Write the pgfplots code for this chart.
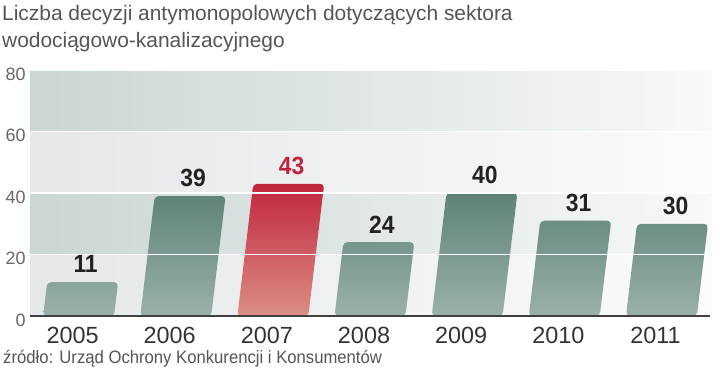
\documentclass[border=0pt]{standalone}
\usepackage{pgfplots}
\pgfplotsset{compat=1.18}
\usepackage{fontspec}
\setmainfont{Liberation Sans}
\newfontfamily\condfont[FakeStretch=0.93]{Liberation Sans}
\newfontfamily\numfont[FakeStretch=0.92]{Liberation Sans}
\definecolor{bandA}{HTML}{C9D6D4}
\definecolor{bandAr}{HTML}{F8F9F9}
\definecolor{bandB}{HTML}{E5E7EA}
\definecolor{bandBr}{HTML}{FBFBFB}
\definecolor{gtop}{HTML}{5D8376}
\definecolor{gbot}{HTML}{9BB0AC}
\definecolor{rtop}{HTML}{C1253E}
\definecolor{rbot}{HTML}{DB8F84}
\definecolor{titlegray}{HTML}{555555}
\definecolor{labdark}{HTML}{222222}
\begin{document}
\begin{tikzpicture}[x=1bp,y=1bp]
\path[use as bounding box] (0,0) rectangle (720,367);
% background bands (plot area 30..710 x 51..297)
\shade[left color=bandB, right color=bandBr] (30,51) rectangle (712,112.5);
\shade[left color=bandA, right color=bandAr] (30,112.5) rectangle (712,174);
\shade[left color=bandB, right color=bandBr] (30,174) rectangle (712,235.5);
\shade[left color=bandA, right color=bandAr] (30,235.5) rectangle (712,297);
% title
\node[anchor=base west, inner sep=0, text=titlegray, font=\fontsize{21}{25}\selectfont] at (2,347) {Liczba decyzji antymonopolowych dotyczących sektora};
\node[anchor=base west, inner sep=0, text=titlegray, font=\fontsize{21}{25}\selectfont] at (2,320) {wodociągowo-kanalizacyjnego};
% source
\node[anchor=base west, inner sep=0, text=titlegray, font=\condfont\fontsize{18}{20}\selectfont] at (3,4) {źródło: Urząd Ochrony Konkurencji i Konsumentów};
\begin{axis}[
  at={(30bp,51bp)}, anchor=south west,
  scale only axis, width=680bp, height=246bp,
  xmin=-0.5, xmax=6.5, ymin=0, ymax=80,
  disabledatascaling,
  axis on top,
  axis lines*=left,
  y axis line style={draw=none},
  x axis line style={draw=black!75, line width=2bp},
  major tick length=0pt,
  ytick={0,20,40,60,80},
  xtick={0,1,2,3,4,5,6},
  xticklabels={2005,2006,2007,2008,2009,2010,2011},
  ymajorgrids,
  grid style={white, line width=1.6bp},
  /pgf/number format/assume math mode=true,
  yticklabel style={font=\fontsize{18}{20}\selectfont, text=black!60, anchor=east, xshift=-1bp, yshift=-4bp},
  xticklabel style={font=\fontsize{23.5}{26}\selectfont, text=black!80, yshift=-8bp, xshift=-6bp},
  ybar, bar width=0.73, bar shift=0pt,
  clip=false,
  nodes near coords,
  every node near coord/.append style={font=\numfont\bfseries\fontsize{25}{28}\selectfont, inner sep=0pt, anchor=south, yshift=9bp, xshift=3bp},
]
\addplot[draw=none, top color=gtop, bottom color=gbot, rounded corners=4bp, xslant=0.12,
  every node near coord/.append style={text=labdark}]
  coordinates {(0,11) (1,39) (3,24) (4,40) (5,31) (6,30)};
\addplot[draw=none, top color=rtop, bottom color=rbot, rounded corners=4bp, xslant=0.12,
  every node near coord/.append style={text=rtop}]
  coordinates {(2,43)};
\end{axis}
\end{tikzpicture}
\end{document}
